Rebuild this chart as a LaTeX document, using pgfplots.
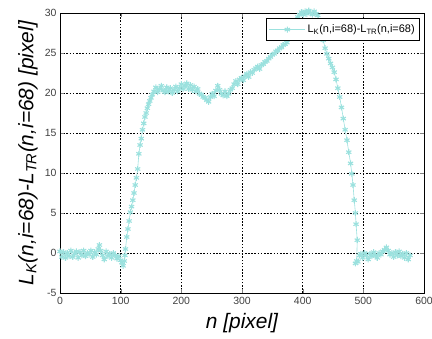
\documentclass[border=0pt]{standalone}
\usepackage{fontspec}
\setmainfont{Liberation Sans}
\usepackage{pgfplots}
\pgfplotsset{compat=1.18}
\definecolor{curvec}{RGB}{155,225,222}
\begin{document}
\begin{tikzpicture}
\useasboundingbox (-60bp,-46bp) rectangle (372bp,293bp);
\begin{axis}[
  at={(0,0)}, anchor=south west,
  scale only axis, width=364bp, height=280bp,
  xmin=0, xmax=600, ymin=-5, ymax=30,
  xtick={0,100,...,600}, ytick={-5,0,...,30},
  tick align=inside, ticks=both,
  xtick pos=both, ytick pos=both,
  major tick length=4bp,
  grid=major,
  major grid style={black, line width=0.5pt, dash pattern=on 1.6pt off 1.6pt},
  axis line style={black, line width=0.6pt},
  /pgf/number format/assume math mode=true,
  tick label style={font=\fontsize{10.5}{12}\selectfont, text=black!75},
  xticklabel style={yshift=-1bp},
  clip=false,
  xlabel={\itshape n [pixel]},
  ylabel={\itshape L\textsubscript{K}(n,i=68)-L\textsubscript{TR}(n,i=68) [pixel]},
  xlabel style={font=\fontsize{21}{24}\selectfont, at={(axis description cs:0.5,-0.107)}, anchor=center},
  ylabel style={font=\fontsize{21}{24}\selectfont, at={(axis description cs:-0.088,0.5)}, anchor=center, rotate=0},
  legend style={at={(axis description cs:0.989,0.982)}, anchor=north east,
    draw=black, line width=0.6pt, fill=white, font=\fontsize{11}{13}\selectfont,
    inner xsep=3bp, inner ysep=4.5bp},
  legend cell align=left,
  legend image code/.code={\draw[#1, mark repeat=2, mark phase=2] plot coordinates {(0bp,0bp) (18bp,0bp) (36bp,0bp)};},
]
\addplot[color=curvec, line width=0.6pt, mark=asterisk, mark size=3pt, mark options={line width=1.1pt}] table {
x y
0 0.2
3 -0.5
6 0.1
9 -0.6
12 0.0
15 -0.4
18 0.3
21 -0.5
24 -0.1
27 0.2
30 -0.6
33 0.1
36 -0.3
39 0.3
42 -0.4
45 0.0
48 -0.2
51 0.3
54 -0.5
57 0.1
60 -0.2
63 0.5
65 1.0
67 0.3
70 -0.3
73 -0.8
76 0.2
79 -0.4
82 -0.1
85 -0.6
88 0.0
91 -0.3
94 -0.7
97 -0.4
100 -0.9
102 -1.2
104 -1.6
106 -1.0
107 -0.3
108 0.5
110 2.0
112 3.0
114 4.0
116 5.1
118 5.8
120 6.6
122 7.5
124 8.5
126 9.4
128 10.5
130 12.4
132 13.5
134 14.3
136 15.4
138 16.2
140 17.0
142 17.5
144 18.1
146 18.6
148 19.0
150 19.4
152 19.8
155 20.2
158 20.7
161 20.1
164 20.5
167 20.9
170 20.3
173 20.1
176 20.7
179 20.2
182 20.6
185 20.0
188 20.4
191 20.8
194 20.2
197 20.6
200 21.1
203 20.5
206 20.9
209 21.2
212 20.5
215 21.0
218 20.4
221 20.8
224 20.2
227 20.5
230 19.9
233 19.8
236 19.5
239 19.4
242 19.1
245 18.9
248 19.5
251 19.9
254 19.6
257 20.3
260 20.9
263 20.4
266 19.9
269 19.7
272 20.2
275 19.6
278 19.9
281 20.4
284 20.6
287 21.1
290 21.5
293 21.1
296 21.7
299 21.9
302 21.6
305 22.1
308 22.4
311 22.0
314 22.6
317 22.5
320 22.9
323 23.1
326 23.3
329 23.0
332 23.5
335 23.6
338 23.9
341 24.0
344 24.3
347 24.5
350 24.8
353 24.9
356 25.2
359 25.3
362 25.6
365 25.7
368 26.0
371 26.1
374 26.3
377 26.8
380 27.4
383 28.0
386 28.6
389 29.1
392 29.5
395 29.8
398 30.1
401 29.8
404 30.2
407 29.9
410 30.3
413 30.0
416 29.8
419 30.2
422 29.9
425 29.7
428 29.0
431 27.8
434 26.6
437 25.6
440 24.9
443 24.3
446 23.7
449 23.2
452 22.6
455 21.7
458 20.6
461 19.5
464 18.2
467 16.8
470 15.4
473 14.1
476 12.6
479 11.2
481 9.9
483 8.5
485 6.6
487 5.0
488 3.6
490 1.6
489 -1.0
487 -1.3
491 -1.1
494 -0.3
496 -0.1
499 -0.6
502 0.0
505 -0.3
508 -0.8
511 -0.1
514 -0.4
517 0.1
520 -0.3
523 -0.6
526 0.0
529 -0.2
532 0.2
535 0.4
538 0.7
541 0.3
544 -0.2
547 0.0
550 -0.5
553 0.1
556 -0.3
559 0.2
562 -0.4
565 -0.1
568 -0.6
571 0.0
574 -0.8
577 -0.3
};
\addlegendentry{L\textsubscript{K}(n,i=68)-L\textsubscript{TR}(n,i=68)}
\end{axis}
\end{tikzpicture}
\end{document}
